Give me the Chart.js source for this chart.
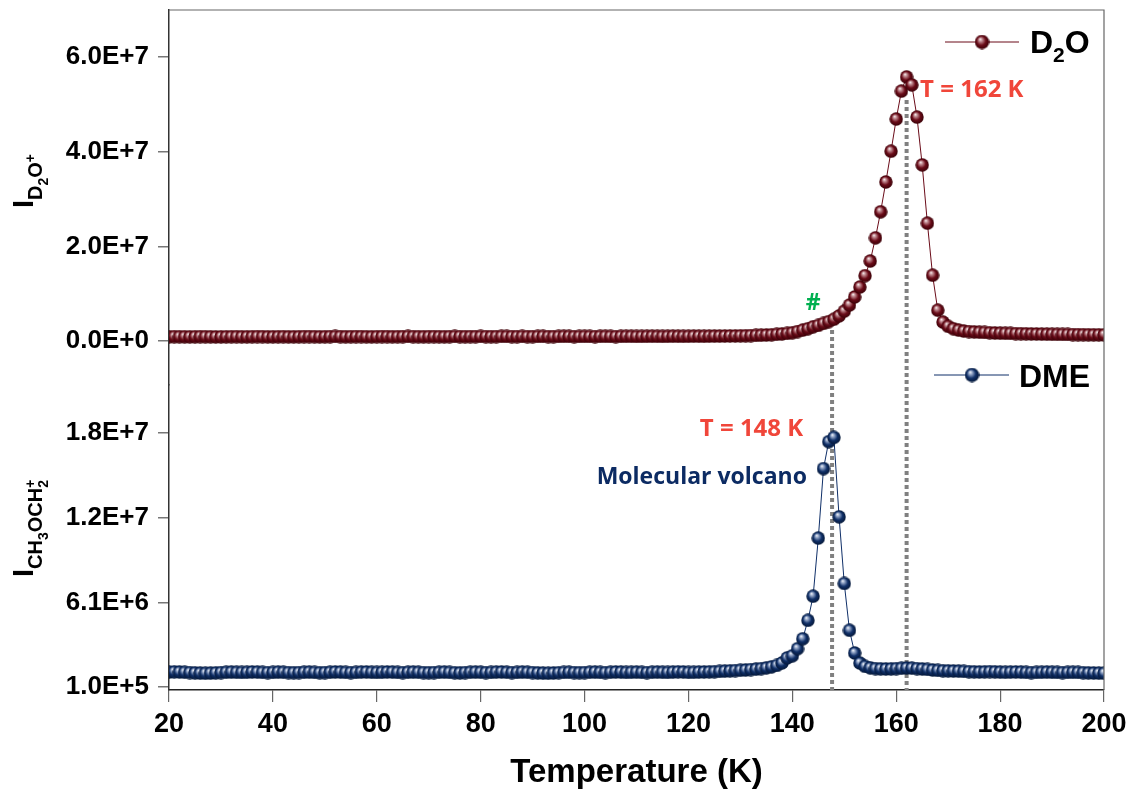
<!DOCTYPE html>
<html>
<head>
<meta charset="utf-8">
<script src="https://cdn.jsdelivr.net/npm/chart.js@4.4.0/dist/chart.umd.min.js"></script>
<style>
html, body { margin: 0; padding: 0; background: #fff; }
#wrap { width: 1130px; height: 793px; position: relative; }
</style>
</head>
<body>
<div id="wrap"><canvas id="tpdChart"></canvas></div>
<script>
// Temperatures (K)
const temps = [
  20, 21, 22, 23, 24, 25, 26, 27, 28, 29,
  30, 31, 32, 33, 34, 35, 36, 37, 38, 39,
  40, 41, 42, 43, 44, 45, 46, 47, 48, 49,
  50, 51, 52, 53, 54, 55, 56, 57, 58, 59,
  60, 61, 62, 63, 64, 65, 66, 67, 68, 69,
  70, 71, 72, 73, 74, 75, 76, 77, 78, 79,
  80, 81, 82, 83, 84, 85, 86, 87, 88, 89,
  90, 91, 92, 93, 94, 95, 96, 97, 98, 99,
  100, 101, 102, 103, 104, 105, 106, 107, 108, 109,
  110, 111, 112, 113, 114, 115, 116, 117, 118, 119,
  120, 121, 122, 123, 124, 125, 126, 127, 128, 129,
  130, 131, 132, 133, 134, 135, 136, 137, 138, 139,
  140, 141, 142, 143, 144, 145, 146, 147, 148, 149,
  150, 151, 152, 153, 154, 155, 156, 157, 158, 159,
  160, 161, 162, 163, 164, 165, 166, 167, 168, 169,
  170, 171, 172, 173, 174, 175, 176, 177, 178, 179,
  180, 181, 182, 183, 184, 185, 186, 187, 188, 189,
  190, 191, 192, 193, 194, 195, 196, 197, 198, 199, 200
];

// D2O+ signal
const d2oSignal = [
  9.1e5, 9.3e5, 9.2e5, 9.0e5, 8.9e5, 9.1e5, 9.3e5, 9.2e5, 9.0e5, 8.8e5,
  8.9e5, 9.1e5, 9.2e5, 9.3e5, 9.1e5, 9.0e5, 9.2e5, 9.4e5, 9.3e5, 9.1e5,
  9.0e5, 9.2e5, 9.3e5, 9.1e5, 9.0e5, 9.2e5, 9.4e5, 9.5e5, 9.3e5, 9.1e5,
  9.2e5, 9.4e5, 9.6e5, 9.4e5, 9.2e5, 9.3e5, 9.5e5, 9.4e5, 9.2e5, 9.1e5,
  9.3e5, 9.5e5, 9.4e5, 9.2e5, 9.3e5, 9.5e5, 9.6e5, 9.4e5, 9.3e5, 9.2e5,
  9.4e5, 9.5e5, 9.3e5, 9.2e5, 9.4e5, 9.6e5, 9.5e5, 9.3e5, 9.4e5, 9.5e5,
  9.6e5, 9.4e5, 9.3e5, 9.5e5, 9.7e5, 9.6e5, 9.4e5, 9.5e5, 9.6e5, 9.5e5,
  9.4e5, 9.6e5, 9.7e5, 9.5e5, 9.4e5, 9.6e5, 9.8e5, 9.7e5, 9.5e5, 9.6e5,
  9.7e5, 9.6e5, 9.5e5, 9.7e5, 9.8e5, 9.6e5, 9.5e5, 9.7e5, 9.9e5, 9.8e5,
  9.6e5, 9.7e5, 9.9e5, 1.0e6, 9.8e5, 9.7e5, 9.9e5, 1.01e6, 1.0e6, 9.9e5,
  1.0e6, 1.02e6, 1.01e6, 1.0e6, 1.02e6, 1.04e6, 1.03e6, 1.05e6, 1.07e6, 1.08e6,
  1.1e6, 1.12e6, 1.15e6, 1.18e6, 1.22e6, 1.27e6, 1.33e6, 1.4e6, 1.5e6, 1.6e6,
  1.75e6, 2.0e6, 2.3e6, 2.6e6, 3.0e6, 3.3e6, 3.7e6, 4.1e6, 4.6e6, 5.3e6,
  6.3e6, 7.6e6, 9.3e6, 1.14e7, 1.38e7, 1.69e7, 2.18e7, 2.73e7, 3.36e7, 4.01e7,
  4.69e7, 5.28e7, 5.58e7, 5.41e7, 4.73e7, 3.72e7, 2.49e7, 1.39e7, 6.5e6, 4.0e6,
  3.1e6, 2.6e6, 2.3e6, 2.1e6, 2.0e6, 1.92e6, 1.86e6, 1.8e6, 1.75e6, 1.7e6,
  1.66e6, 1.63e6, 1.6e6, 1.57e6, 1.55e6, 1.52e6, 1.5e6, 1.48e6, 1.46e6, 1.44e6,
  1.42e6, 1.41e6, 1.39e6, 1.38e6, 1.36e6, 1.35e6, 1.34e6, 1.33e6, 1.32e6, 1.31e6, 1.3e6
];

// CH3OCH2+ (DME) signal
const dmeSignal = [
  1.15e6, 1.17e6, 1.16e6, 1.14e6, 1.12e6, 1.1e6, 1.08e6, 1.07e6, 1.08e6, 1.1e6,
  1.12e6, 1.14e6, 1.15e6, 1.14e6, 1.13e6, 1.14e6, 1.16e6, 1.15e6, 1.13e6, 1.12e6,
  1.13e6, 1.15e6, 1.14e6, 1.12e6, 1.11e6, 1.12e6, 1.14e6, 1.15e6, 1.13e6, 1.11e6,
  1.12e6, 1.14e6, 1.16e6, 1.15e6, 1.13e6, 1.12e6, 1.13e6, 1.15e6, 1.16e6, 1.14e6,
  1.13e6, 1.14e6, 1.16e6, 1.15e6, 1.13e6, 1.12e6, 1.14e6, 1.15e6, 1.14e6, 1.12e6,
  1.11e6, 1.12e6, 1.14e6, 1.15e6, 1.13e6, 1.11e6, 1.1e6, 1.12e6, 1.14e6, 1.15e6,
  1.14e6, 1.12e6, 1.13e6, 1.15e6, 1.16e6, 1.14e6, 1.12e6, 1.13e6, 1.15e6, 1.14e6,
  1.12e6, 1.1e6, 1.08e6, 1.07e6, 1.09e6, 1.11e6, 1.13e6, 1.14e6, 1.12e6, 1.11e6,
  1.12e6, 1.14e6, 1.15e6, 1.13e6, 1.12e6, 1.14e6, 1.16e6, 1.15e6, 1.13e6, 1.14e6,
  1.15e6, 1.13e6, 1.12e6, 1.14e6, 1.15e6, 1.14e6, 1.13e6, 1.15e6, 1.17e6, 1.16e6,
  1.13e6, 1.14e6, 1.15e6, 1.16e6, 1.17e6, 1.18e6, 1.2e6, 1.22e6, 1.24e6, 1.26e6,
  1.28e6, 1.3e6, 1.33e6, 1.36e6, 1.4e6, 1.45e6, 1.52e6, 1.62e6, 1.8e6, 2.15e6,
  2.3e6, 2.8e6, 3.5e6, 4.8e6, 6.5e6, 1.06e7, 1.55e7, 1.74e7, 1.77e7, 1.21e7,
  7.4e6, 4.1e6, 2.5e6, 1.79e6, 1.55e6, 1.45e6, 1.4e6, 1.38e6, 1.37e6, 1.38e6,
  1.4e6, 1.42e6, 1.44e6, 1.43e6, 1.4e6, 1.37e6, 1.34e6, 1.3e6, 1.27e6, 1.25e6,
  1.24e6, 1.23e6, 1.22e6, 1.2e6, 1.18e6, 1.17e6, 1.16e6, 1.17e6, 1.18e6, 1.17e6,
  1.15e6, 1.14e6, 1.15e6, 1.16e6, 1.15e6, 1.13e6, 1.12e6, 1.13e6, 1.14e6, 1.15e6,
  1.14e6, 1.13e6, 1.12e6, 1.13e6, 1.14e6, 1.13e6, 1.11e6, 1.1e6, 1.09e6, 1.08e6, 1.07e6
];

// Tick values
const xTicks = [20, 40, 60, 80, 100, 120, 140, 160, 180, 200];
const d2oTicks = [0, 2.0e7, 4.0e7, 6.0e7];
const dmeTicks = [1.0e5, 6.07e6, 1.204e7, 1.801e7];

// Annotations (in data coordinates)
const notes = [
  { text: 'T = 162 K', x: 164.6, y: 5.30e7, axis: 'yD2O', color: '#f0463a', align: 'left', size: 24 },
  { text: '#', x: 144.0, y: 8.0e6, axis: 'yD2O', color: '#00b050', align: 'center', size: 23 },
  { text: 'T = 148 K', x: 142.1, y: 1.829e7, axis: 'yDME', color: '#f0463a', align: 'right', size: 24 },
  { text: 'Molecular volcano', x: 142.8, y: 1.491e7, axis: 'yDME', color: '#0c2b63', align: 'right', size: 23 }
];
const guides = [
  { x: 147.65, from: 2.3e6 },
  { x: 162.0, from: 5.09e7 }
];

const MAROON = '#6a0b18';
const NAVY = '#0f2f68';
const ARIAL = '"Liberation Sans", Arial, sans-serif';

// Sphere marker
function makeSphere(light, base, dark, size) {
  const c = document.createElement('canvas');
  c.width = size;
  c.height = size;
  const g = c.getContext('2d');
  const r = size / 2;
  const grad = g.createRadialGradient(r * 0.75, r * 0.6, 0, r, r, r);
  grad.addColorStop(0, '#ffffff');
  grad.addColorStop(0.22, light);
  grad.addColorStop(0.6, base);
  grad.addColorStop(1, dark);
  g.fillStyle = grad;
  g.beginPath();
  g.arc(r, r, r - 0.3, 0, Math.PI * 2);
  g.fill();
  return c;
}
const d2oBall = makeSphere('#c7959b', MAROON, '#360006', 14);
const dmeBall = makeSphere('#9fb0cf', NAVY, '#041634', 14);
const d2oBallBig = makeSphere('#c7959b', MAROON, '#360006', 15);
const dmeBallBig = makeSphere('#9fb0cf', NAVY, '#041634', 15);

// Text with sub/superscripts
function drawRich(ctx, x, y, parts, rotate) {
  ctx.save();
  ctx.translate(x, y);
  if (rotate) ctx.rotate(-Math.PI / 2);
  ctx.textBaseline = 'alphabetic';
  ctx.textAlign = 'left';
  ctx.fillStyle = '#000';
  let cx = 0, held = 0;
  parts.forEach(p => {
    ctx.font = `bold ${p.size}px ${ARIAL}`;
    const w = ctx.measureText(p.text).width;
    ctx.fillText(p.text, cx, p.dy || 0);
    if (p.hold) {
      held = w;
    } else {
      cx += Math.max(w, held);
      held = 0;
    }
  });
  ctx.restore();
}

const decorPlugin = {
  id: 'decor',
  beforeDatasetsDraw(chart) {
    const { ctx, chartArea } = chart;
    const xs = chart.scales.x;
    const yu = chart.scales.yD2O;
    ctx.save();
    ctx.strokeStyle = '#808080';
    ctx.lineWidth = 4;
    ctx.setLineDash([4, 3]);
    guides.forEach(g => {
      const px = xs.getPixelForValue(g.x);
      ctx.beginPath();
      ctx.moveTo(px, yu.getPixelForValue(g.from));
      ctx.lineTo(px, chartArea.bottom);
      ctx.stroke();
    });
    ctx.restore();
  },
  afterDraw(chart) {
    const { ctx, chartArea } = chart;
    const xs = chart.scales.x;
    ctx.save();
    // frame top and right
    ctx.strokeStyle = '#666';
    ctx.lineWidth = 1.2;
    ctx.beginPath();
    ctx.moveTo(chartArea.left, chartArea.top);
    ctx.lineTo(chartArea.right, chartArea.top);
    ctx.lineTo(chartArea.right, chartArea.bottom);
    ctx.stroke();

    // annotations
    ctx.textBaseline = 'middle';
    notes.forEach(n => {
      ctx.font = `bold ${n.size}px "Open Sans", sans-serif`;
      ctx.fillStyle = n.color;
      ctx.textAlign = n.align;
      ctx.fillText(n.text, xs.getPixelForValue(n.x), chart.scales[n.axis].getPixelForValue(n.y));
    });

    // legends
    const r = chartArea.right, t = chartArea.top;
    ctx.strokeStyle = MAROON;
    ctx.lineWidth = 1;
    ctx.beginPath();
    ctx.moveTo(r - 159, t + 32);
    ctx.lineTo(r - 85, t + 32);
    ctx.stroke();
    ctx.drawImage(d2oBallBig, r - 122 - 7.5, t + 32 - 7.5);
    drawRich(ctx, r - 74, t + 43, [
      { text: 'D', size: 32 }, { text: '2', size: 21, dy: 9 }, { text: 'O', size: 32 }
    ], false);

    ctx.strokeStyle = NAVY;
    ctx.beginPath();
    ctx.moveTo(r - 170, t + 365);
    ctx.lineTo(r - 95, t + 365);
    ctx.stroke();
    ctx.drawImage(dmeBallBig, r - 132 - 7.5, t + 365 - 7.5);
    drawRich(ctx, r - 85, t + 377, [{ text: 'DME', size: 32 }], false);

    // y axis titles
    drawRich(ctx, 33, 208, [
      { text: 'I', size: 29 },
      { text: 'D', size: 20, dy: 9 },
      { text: '2', size: 14, dy: 15 },
      { text: 'O', size: 20, dy: 9 },
      { text: '+', size: 14, dy: 1.5 }
    ], true);
    drawRich(ctx, 33, 577, [
      { text: 'I', size: 29 },
      { text: 'C', size: 20, dy: 9 },
      { text: 'H', size: 20, dy: 9 },
      { text: '3', size: 14, dy: 15 },
      { text: 'O', size: 20, dy: 9 },
      { text: 'C', size: 20, dy: 9 },
      { text: 'H', size: 20, dy: 9 },
      { text: '2', size: 14, dy: 15, hold: true },
      { text: '+', size: 14, dy: 1.5 }
    ], true);
    ctx.restore();
  }
};

function sciLabel(value) {
  return Number(value).toExponential(1).toUpperCase();
}

function fitY(s) {
  s.width = 169;
  s.paddingTop = 0;
  s.paddingBottom = 0;
}

const yTickFont = { family: ARIAL, size: 26, weight: 'bold' };

const ctx = document.getElementById('tpdChart').getContext('2d');
const tpdChart = new Chart(ctx, {
  type: 'line',
  data: {
    datasets: [
      {
        label: 'D2O',
        data: temps.map((t, i) => ({ x: t, y: d2oSignal[i] })),
        yAxisID: 'yD2O',
        borderColor: MAROON,
        borderWidth: 1,
        pointStyle: d2oBall,
        pointRadius: 7,
        tension: 0
      },
      {
        label: 'DME',
        data: temps.map((t, i) => ({ x: t, y: dmeSignal[i] })),
        yAxisID: 'yDME',
        borderColor: NAVY,
        borderWidth: 1,
        pointStyle: dmeBall,
        pointRadius: 7,
        tension: 0
      }
    ]
  },
  options: {
    responsive: true,
    maintainAspectRatio: false,
    animation: false,
    layout: { padding: { top: 10, right: 26, left: 0, bottom: 0 } },
    plugins: {
      legend: { display: false },
      tooltip: { enabled: false }
    },
    scales: {
      x: {
        type: 'linear',
        min: 20,
        max: 200,
        afterBuildTicks: s => { s.ticks = xTicks.map(v => ({ value: v })); },
        ticks: { font: { family: ARIAL, size: 27, weight: 'bold' }, color: '#000', padding: 6, maxRotation: 0 },
        grid: { drawOnChartArea: false, tickLength: 12, color: '#666', lineWidth: 1.2 },
        border: { color: '#222', width: 1.5 },
        title: {
          display: true,
          text: 'Temperature (K)',
          color: '#000',
          font: { family: ARIAL, size: 33, weight: 'bold' },
          padding: { top: 0, bottom: 0 }
        },
        afterFit: s => {
          s.height = 103;
          s.paddingLeft = 0;
          s.paddingRight = 0;
        }
      },
      yDME: {
        type: 'linear',
        position: 'left',
        stack: 'panels',
        stackWeight: 305,
        min: -1.115e5,
        max: 2.1395e7,
        afterBuildTicks: s => { s.ticks = dmeTicks.map(v => ({ value: v })); },
        ticks: { callback: sciLabel, font: yTickFont, color: '#000', padding: 9 },
        grid: { drawOnChartArea: false, tickLength: 11, color: '#777', lineWidth: 1.5 },
        border: { color: '#333', width: 1.5 },
        afterFit: fitY
      },
      yD2O: {
        type: 'linear',
        position: 'left',
        stack: 'panels',
        stackWeight: 375,
        min: -9.296e6,
        max: 6.993e7,
        afterBuildTicks: s => { s.ticks = d2oTicks.map(v => ({ value: v })); },
        ticks: { callback: sciLabel, font: yTickFont, color: '#000', padding: 9 },
        grid: { drawOnChartArea: false, tickLength: 11, color: '#777', lineWidth: 1.5 },
        border: { color: '#333', width: 1.5 },
        afterFit: fitY
      }
    }
  },
  plugins: [decorPlugin]
});
</script>
</body>
</html>
